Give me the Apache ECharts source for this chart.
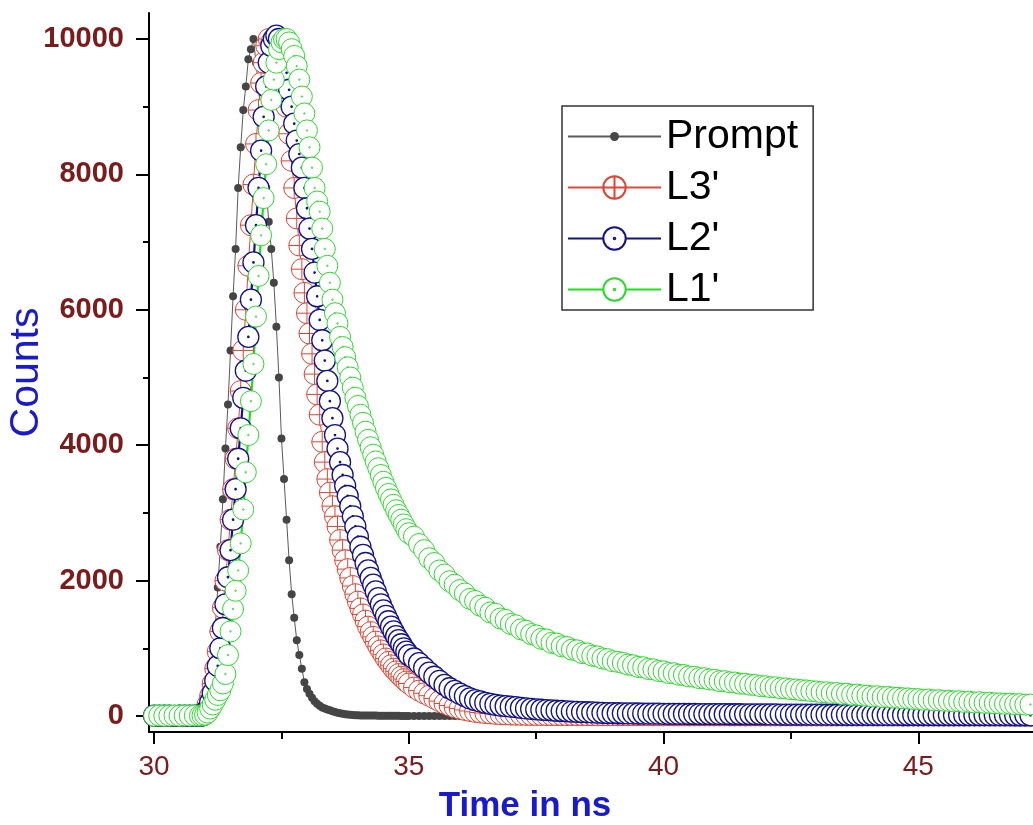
<!DOCTYPE html>
<html>
<head>
<meta charset="utf-8">
<script src="https://cdn.jsdelivr.net/npm/echarts@6/dist/echarts.min.js"></script>
<style>
  html, body { margin: 0; padding: 0; background: #fff; }
  #chart { width: 1033px; height: 825px; }
</style>
</head>
<body>
<div id="chart"></div>
<script>
// channel times (ns)
const time = [
  30.0, 30.1, 30.2, 30.3, 30.4, 30.5, 30.6, 30.7, 30.8,
  30.9, 30.95,
  31, 31.05, 31.1, 31.15, 31.2, 31.25, 31.3, 31.35, 31.4, 31.45, 31.5, 31.55, 31.6, 31.65, 31.7, 31.75, 31.8, 31.85, 31.9, 31.95,
  32, 32.05, 32.1, 32.15, 32.2, 32.25, 32.3, 32.35, 32.4, 32.45, 32.5, 32.55, 32.6, 32.65, 32.7, 32.75, 32.8, 32.85, 32.9, 32.95,
  33, 33.05, 33.1, 33.15, 33.2, 33.25, 33.3, 33.35, 33.4, 33.45, 33.5, 33.55, 33.6, 33.65, 33.7, 33.75, 33.8, 33.85, 33.9, 33.95,
  34, 34.05, 34.1, 34.15, 34.2, 34.25, 34.3, 34.35, 34.4, 34.45, 34.5, 34.55, 34.6, 34.65, 34.7, 34.75, 34.8, 34.85, 34.9, 34.95,
  35,
  35.1, 35.2, 35.3, 35.4, 35.5, 35.6, 35.7, 35.8, 35.9,
  36, 36.1, 36.2, 36.3, 36.4, 36.5, 36.6, 36.7, 36.8, 36.9,
  37, 37.1, 37.2, 37.3, 37.4, 37.5, 37.6, 37.7, 37.8, 37.9,
  38, 38.1, 38.2, 38.3, 38.4, 38.5, 38.6, 38.7, 38.8, 38.9,
  39, 39.1, 39.2, 39.3, 39.4, 39.5, 39.6, 39.7, 39.8, 39.9,
  40, 40.1, 40.2, 40.3, 40.4, 40.5, 40.6, 40.7, 40.8, 40.9,
  41, 41.1, 41.2, 41.3, 41.4, 41.5, 41.6, 41.7, 41.8, 41.9,
  42, 42.1, 42.2, 42.3, 42.4, 42.5, 42.6, 42.7, 42.8, 42.9,
  43, 43.1, 43.2, 43.3, 43.4, 43.5, 43.6, 43.7, 43.8, 43.9,
  44, 44.1, 44.2, 44.3, 44.4, 44.5, 44.6, 44.7, 44.8, 44.9,
  45, 45.1, 45.2, 45.3, 45.4, 45.5, 45.6, 45.7, 45.8, 45.9,
  46, 46.1, 46.2, 46.3, 46.4, 46.5, 46.6, 46.7, 46.8, 46.9,
  47, 47.1, 47.2
]

const prompt = [
  2, 1, 3, 2, 1, 2, 3, 2, 4,
  15, 70,
  300, 520, 750, 1000, 1300, 1900, 2500, 3200, 3950, 4600, 5400, 6200, 6900, 7800, 8400, 8950, 9300, 9700, 9850, 10000,
  9650, 9300, 8800, 8300, 7800, 7300, 6900, 6400, 5750, 5000, 4100, 3500, 2900, 2300, 1800, 1450, 1120, 900, 700, 500,
  400, 330, 270, 220, 180, 150, 125, 110, 95, 85, 70, 60, 50, 42, 35, 28, 22, 18, 15, 12,
  10, 9, 8, 8, 7, 7, 6, 6, 5, 5, 4, 4, 4, 3, 3, 3, 3, 2, 2, 2,
  2,
  2, 2, 1, 2, 1, 1, 2, 1, 1,
  1, 1, 2, 1, 1, 1, 1, 2, 1, 1,
  1, 1, 1, 2, 1, 1, 1, 1, 1, 2,
  1, 1, 1, 1, 2, 1, 1, 1, 1, 1,
  1, 2, 1, 1, 1, 1, 1, 2, 1, 1,
  1, 1, 1, 1, 1, 2, 1, 1, 1, 1,
  2, 1, 1, 1, 1, 1, 1, 1, 2, 1,
  1, 1, 1, 2, 1, 1, 1, 1, 1, 1,
  1, 1, 1, 1, 1, 1, 2, 1, 1, 1,
  1, 2, 1, 1, 1, 1, 1, 1, 1, 1,
  1, 1, 1, 1, 2, 1, 1, 1, 1, 1,
  1, 1, 1, 1, 1, 1, 1, 1, 2, 1,
  1, 1, 1
]

const l3 = [
  3, 2, 4, 3, 2, 5, 3, 4, 6,
  10, 35,
  80, 170, 300, 480, 700, 950, 1250, 1600, 2000, 2450, 2900, 3350, 3800, 4250, 4800, 5400, 6000, 6650, 7250, 7850,
  8450, 8950, 9350, 9650, 9900, 10000, 9950, 9850, 9750, 9600, 9500, 9300, 9000, 8600, 8200, 7800, 7350, 6950, 6600, 6250,
  5950, 5650, 5350, 5050, 4750, 4450, 4050, 3750, 3500, 3300, 3100, 2950, 2800, 2600, 2450, 2300, 2170, 2040, 1920, 1800,
  1690, 1590, 1500, 1410, 1320, 1240, 1170, 1100, 1030, 970, 910, 850, 800, 750, 700, 660, 620, 580, 545, 510,
  480,
  420, 375, 335, 300, 260, 220, 185, 155, 130,
  110, 90, 75, 62, 52, 44, 38, 32, 28, 24,
  21, 19, 18, 17, 16, 16, 15, 15, 14, 14,
  14, 13, 14, 13, 13, 12, 13, 12, 12, 12,
  12, 11, 12, 11, 11, 12, 11, 11, 10, 11,
  10, 11, 10, 10, 10, 9, 10, 10, 9, 10,
  9, 9, 10, 9, 9, 9, 8, 9, 9, 8,
  9, 8, 8, 8, 9, 8, 8, 7, 8, 8,
  8, 7, 8, 7, 7, 8, 7, 7, 7, 7,
  7, 7, 6, 7, 7, 6, 7, 6, 6, 7,
  6, 6, 6, 6, 5, 6, 6, 5, 6, 5,
  5, 6, 5, 5, 5, 5, 5, 4, 5, 5,
  5, 4, 5
]

const l2 = [
  5, 4, 6, 5, 3, 5, 6, 4, 5,
  2, 8,
  40, 100, 200, 340, 520, 740, 1000, 1300, 1650, 2050, 2450, 2900, 3350, 3800, 4250, 4700, 5100, 5600, 6150, 6700,
  7250, 7800, 8350, 8850, 9300, 9650, 9900, 10000, 10050, 10000, 9900, 9750, 9500, 9250, 9000, 8750, 8500, 8300, 8100, 7800,
  7500, 7200, 6900, 6550, 6200, 5850, 5550, 5250, 4950, 4650, 4400, 4150, 3950, 3750, 3560, 3400, 3250, 3100, 2950, 2800,
  2650, 2500, 2380, 2260, 2150, 2040, 1940, 1840, 1740, 1650, 1560, 1480, 1400, 1320, 1250, 1180, 1120, 1060, 1000, 950,
  900,
  850, 780, 710, 640, 580, 520, 460, 410, 370,
  330, 295, 260, 235, 215, 195, 180, 165, 155, 145,
  138, 130, 120, 112, 105, 98, 93, 88, 83, 78,
  74, 70, 66, 62, 59, 56, 53, 50, 47, 44,
  42, 41, 40, 38, 38, 37, 36, 35, 35, 34,
  33, 33, 32, 31, 31, 30, 30, 29, 29, 28,
  28, 27, 27, 26, 26, 26, 25, 25, 24, 24,
  24, 23, 23, 22, 22, 22, 21, 21, 21, 20,
  20, 20, 19, 19, 19, 18, 18, 18, 18, 17,
  17, 17, 17, 16, 16, 16, 16, 15, 15, 15,
  15, 15, 14, 14, 14, 14, 14, 13, 13, 13,
  13, 13, 13, 12, 12, 12, 12, 12, 12, 11,
  11, 11, 11
]

const l1 = [
  4, 6, 3, 5, 7, 4, 6, 5, 8,
  5, 10,
  20, 50, 110, 170, 240, 310, 380, 480, 620, 900, 1250, 1580, 1850, 2150, 2550, 3050, 3600, 4150, 4650, 5200,
  5900, 6500, 7100, 7650, 8150, 8650, 9100, 9400, 9650, 9850, 9950, 10000, 10000, 9950, 9850, 9750, 9600, 9400, 9150, 8900,
  8650, 8400, 8100, 7800, 7600, 7450, 7200, 6900, 6650, 6400, 6150, 5950, 5800, 5600, 5450, 5300, 5150, 5000, 4850, 4700,
  4580, 4450, 4330, 4200, 4080, 3970, 3860, 3760, 3660, 3560, 3460, 3370, 3280, 3200, 3120, 3040, 2970, 2900, 2830, 2760,
  2700,
  2650, 2540, 2450, 2330, 2260, 2150, 2090, 1990, 1940,
  1860, 1810, 1730, 1700, 1630, 1600, 1530, 1510, 1440, 1420,
  1360, 1340, 1280, 1260, 1210, 1190, 1140, 1130, 1080, 1070,
  1030, 1020, 980, 970, 930, 925, 890, 880, 850, 840,
  810, 800, 785, 760, 750, 725, 720, 695, 690, 665,
  660, 635, 632, 610, 605, 585, 580, 560, 558, 540,
  535, 515, 515, 498, 495, 478, 476, 462, 458, 442,
  440, 425, 424, 410, 408, 396, 392, 382, 378, 368,
  362, 352, 350, 338, 340, 326, 328, 314, 316, 304,
  300, 290, 292, 280, 282, 272, 270, 262, 260, 252,
  250, 240, 244, 232, 234, 226, 224, 216, 218, 208,
  210, 200, 204, 194, 196, 188, 186, 180, 182, 174,
  176, 168, 170
]

const seriesNames = ['Prompt', "L3'", "L2'", "L1'"]
const xMajorTicks = [30, 35, 40, 45]
const xMinorTicks = [32.5, 37.5, 42.5]
const yMajorTicks = [0, 2000, 4000, 6000, 8000, 10000]
const yMinorTicks = [1000, 3000, 5000, 7000, 9000]

const font = 'Arial, "Liberation Sans", sans-serif'
const labelColor = '#7a1c1c'
const titleColor = '#1a1acd'

// marker shapes (Origin style)
const dotSymbol = 'path://M-10,-10M10,10M0,-4A4,4,0,1,1,0,4A4,4,0,1,1,0,-4Z'
const crossCircle = 'path://M0,-10A10,10,0,1,1,0,10A10,10,0,1,1,0,-10ZM-10,0L10,0M0,-10L0,10'
const dotCircle = 'path://M0,-10A10,10,0,1,1,0,10A10,10,0,1,1,0,-10ZM0,-0.7A0.7,0.7,0,1,1,0,0.7A0.7,0.7,0,1,1,0,-0.7Z'

const pairs = vals => time.map((t, i) => [t, vals[i]])

const tickStyle = { color: '#000', width: 2 }

const chart = echarts.init(document.getElementById('chart'))

const option = {
  animation: false,
  backgroundColor: '#fff',
  grid: { left: 149, right: 0, top: 13, bottom: 93, containLabel: false, outerBoundsMode: 'none' },
  legend: {
    data: seriesNames,
    orient: 'vertical',
    left: 562,
    top: 106,
    padding: [10, 15, 0, 5],
    itemWidth: 93,
    itemHeight: 28,
    itemGap: 10,
    borderColor: '#333',
    borderWidth: 1.5,
    backgroundColor: '#fff',
    textStyle: { fontFamily: font, fontSize: 41, color: '#000' }
  },
  xAxis: [
    {
      type: 'value',
      min: 29.9,
      max: 47.25,
      axisLine: { onZero: false, lineStyle: tickStyle },
      axisTick: { length: 12, lineStyle: tickStyle, customValues: xMajorTicks },
      axisLabel: { customValues: xMajorTicks, margin: 21, color: labelColor, fontSize: 28, fontFamily: font },
      splitLine: { show: false },
      name: 'Time in ns',
      nameLocation: 'middle',
      nameGap: 57,
      nameMoveOverlap: false,
      nameTextStyle: { color: titleColor, fontSize: 35, fontWeight: 'bold', fontFamily: font, padding: [0, 132, 0, 0] }
    },
    {
      type: 'value',
      min: 29.9,
      max: 47.25,
      position: 'bottom',
      axisLine: { show: false, onZero: false },
      axisTick: { length: 7, lineStyle: tickStyle, customValues: xMinorTicks },
      axisLabel: { show: false },
      splitLine: { show: false }
    }
  ],
  yAxis: [
    {
      type: 'value',
      min: -236,
      max: 10384,
      axisLine: { show: true, onZero: false, lineStyle: tickStyle },
      axisTick: { show: true, length: 13, lineStyle: tickStyle, customValues: yMajorTicks },
      axisLabel: {
        customValues: yMajorTicks,
        formatter: v => String(v),
        margin: 25,
        color: labelColor,
        fontSize: 29,
        fontWeight: 'bold',
        fontFamily: font
      },
      splitLine: { show: false },
      name: 'Counts',
      nameLocation: 'middle',
      nameRotate: 90,
      nameGap: 102,
      nameMoveOverlap: false,
      nameTextStyle: { color: titleColor, fontSize: 41, fontFamily: font }
    },
    {
      type: 'value',
      min: -236,
      max: 10384,
      position: 'left',
      axisLine: { show: false, onZero: false },
      axisTick: { show: true, length: 6, lineStyle: tickStyle, customValues: yMinorTicks },
      axisLabel: { show: false },
      splitLine: { show: false }
    }
  ],
  series: [
    {
      name: 'Prompt',
      type: 'line',
      data: pairs(prompt),
      symbol: dotSymbol,
      symbolSize: 20,
      itemStyle: { color: '#454545' },
      lineStyle: { color: '#5a5a5a', width: 1 }
    },
    {
      name: "L3'",
      type: 'line',
      data: pairs(l3),
      symbol: crossCircle,
      symbolSize: 21,
      itemStyle: { color: '#fff', borderColor: '#dd4433', borderWidth: 1 },
      lineStyle: { color: '#e0483a', width: 1 }
    },
    {
      name: "L2'",
      type: 'line',
      data: pairs(l2),
      symbol: dotCircle,
      symbolSize: 21,
      itemStyle: { color: '#fff', borderColor: '#12128a', borderWidth: 1.3 },
      lineStyle: { color: '#12128a', width: 2.2 }
    },
    {
      name: "L1'",
      type: 'line',
      data: pairs(l1),
      symbol: dotCircle,
      symbolSize: 21,
      itemStyle: { color: '#fff', borderColor: '#2ed82e', borderWidth: 1 },
      lineStyle: { color: '#22dd22', width: 2.2 }
    }
  ]
}

chart.setOption(option)
</script>
</body>
</html>
